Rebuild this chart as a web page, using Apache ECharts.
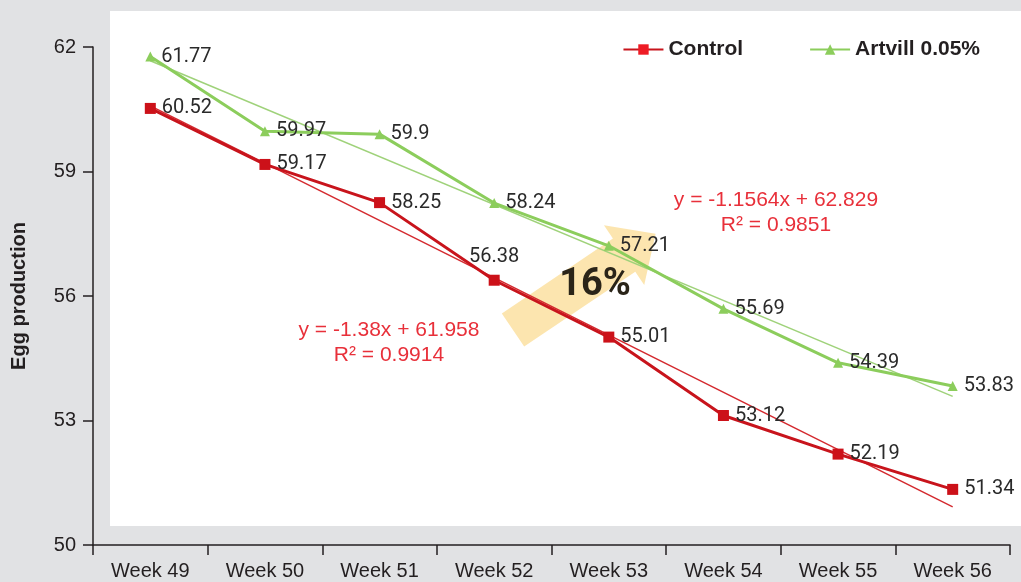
<!DOCTYPE html>
<html>
<head>
<meta charset="utf-8">
<script src="https://cdn.jsdelivr.net/npm/echarts@6/dist/echarts.min.js"></script>
<style>
  html, body { margin: 0; padding: 0; background: #e1e2e4; }
  #chart { width: 1021px; height: 582px; }
</style>
</head>
<body>
<div id="chart"></div>
<script>
const weeks = ['Week 49', 'Week 50', 'Week 51', 'Week 52', 'Week 53', 'Week 54', 'Week 55', 'Week 56'];
const control = [60.52, 59.17, 58.25, 56.38, 55.01, 53.12, 52.19, 51.34];
const artvill = [61.77, 59.97, 59.9, 58.24, 57.21, 55.69, 54.39, 53.83];
// trend line end points
const controlTrend = [60.58, null, null, null, null, null, null, 50.92];
const artvillTrend = [61.67, null, null, null, null, null, null, 53.58];
const yTicks = [50, 53, 56, 59, 62];

const chart = echarts.init(document.getElementById('chart'));

const labelStyle = {
  show: true,
  position: 'right',
  distance: 6,
  fontFamily: 'Roboto',
  fontSize: 20,
  color: '#2a2a2a'
};

// small per point tweaks so labels sit like in the original
function labelled(values, tweaks) {
  return values.map(function (v, i) {
    const item = { value: v };
    if (tweaks[i]) item.label = tweaks[i];
    return item;
  });
}

const option = {
  backgroundColor: '#e1e2e4',
  animation: false,
  grid: { left: 93, right: 11, top: 47, bottom: 37 },
  graphic: [
    {
      type: 'rect', z: -10, silent: true,
      shape: { x: 110, y: 11, width: 911, height: 515 },
      style: { fill: '#ffffff' }
    },
    {
      type: 'polygon', z: 1, silent: true,
      x: 513, y: 330, rotation: Math.PI * 34 / 180,
      shape: { points: [[0, -20], [134, -20], [134, -36], [172, 0], [134, 36], [134, 20], [0, 20]] },
      style: { fill: 'rgba(250, 208, 110, 0.55)' }
    },
    {
      type: 'text', z: 2, silent: true,
      x: 595, y: 285,
      style: {
        text: '16%', fontFamily: 'Roboto', fontWeight: 'bold', fontSize: 38,
        fill: '#2a2418', align: 'center', verticalAlign: 'middle'
      }
    },
    {
      type: 'text', z: 2, silent: true,
      x: 389, y: 343,
      style: {
        text: 'y = -1.38x + 61.958\nR² = 0.9914', fontFamily: 'Liberation Sans', fontSize: 21,
        lineHeight: 25, fill: '#e8303a', align: 'center', verticalAlign: 'middle'
      }
    },
    {
      type: 'text', z: 2, silent: true,
      x: 776, y: 213,
      style: {
        text: 'y = -1.1564x + 62.829\nR² = 0.9851', fontFamily: 'Liberation Sans', fontSize: 21,
        lineHeight: 25, fill: '#e8303a', align: 'center', verticalAlign: 'middle'
      }
    }
  ],
  legend: {
    top: 34,
    right: 36,
    itemGap: 66,
    itemWidth: 40,
    itemHeight: 13,
    textStyle: { fontFamily: 'Liberation Sans', fontWeight: 'bold', fontSize: 21, color: '#231f20' },
    data: [
      { name: 'Control', itemStyle: { color: '#ee1c25' } },
      { name: 'Artvill 0.05%', itemStyle: { color: '#8ccd5c' } }
    ]
  },
  xAxis: {
    type: 'category',
    data: weeks,
    boundaryGap: true,
    axisLine: { lineStyle: { color: '#231f20', width: 1.5 } },
    axisTick: { show: true, length: 10, alignWithLabel: false, lineStyle: { color: '#231f20', width: 1.5 } },
    axisLabel: { fontFamily: 'Liberation Sans', fontSize: 20, color: '#231f20', margin: 16 },
    splitLine: { show: false }
  },
  yAxis: {
    type: 'value',
    min: yTicks[0],
    max: yTicks[yTicks.length - 1],
    interval: 3,
    name: 'Egg production',
    nameLocation: 'middle',
    nameGap: 64,
    nameTextStyle: { fontFamily: 'Liberation Sans', fontWeight: 'bold', fontSize: 20, color: '#231f20' },
    axisLine: { show: true, lineStyle: { color: '#231f20', width: 1.5 } },
    axisTick: { show: true, length: 10, lineStyle: { color: '#231f20', width: 1.5 } },
    axisLabel: { fontFamily: 'Liberation Sans', fontSize: 20, color: '#231f20', margin: 17 },
    splitLine: { show: false }
  },
  series: [
    {
      name: 'Control trend',
      type: 'line',
      data: controlTrend,
      connectNulls: true,
      symbol: 'none',
      z: 3,
      lineStyle: { color: '#d42a2f', width: 1.5 }
    },
    {
      name: 'Artvill trend',
      type: 'line',
      data: artvillTrend,
      connectNulls: true,
      symbol: 'none',
      z: 3,
      lineStyle: { color: '#9fd27a', width: 1.5 }
    },
    {
      name: 'Control',
      type: 'line',
      data: labelled(control, { 3: { position: 'top', distance: 8 } }),
      symbol: 'rect',
      symbolSize: 11,
      z: 4,
      itemStyle: { color: '#cc1119' },
      lineStyle: { color: '#c8141c', width: 3 },
      label: labelStyle
    },
    {
      name: 'Artvill 0.05%',
      type: 'line',
      data: artvill,
      symbol: 'triangle',
      symbolSize: 10,
      z: 4,
      itemStyle: { color: '#8ccd5c' },
      lineStyle: { color: '#8ccd5c', width: 3 },
      label: labelStyle
    }
  ]
};

chart.setOption(option);
</script>
</body>
</html>
